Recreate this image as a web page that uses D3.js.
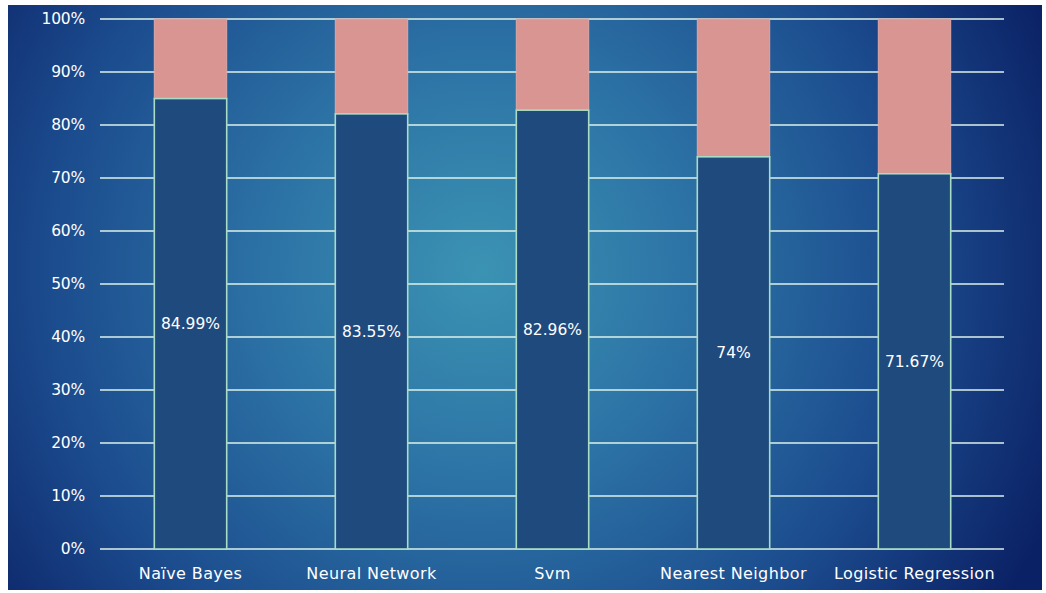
<!DOCTYPE html>
<html>
<head>
<meta charset="utf-8">
<script src="https://cdn.jsdelivr.net/npm/d3@7"></script>
<style>
  html, body { margin: 0; padding: 0; background: #ffffff; }
  svg { display: block; }
  text { font-family: "DejaVu Sans", sans-serif; }
</style>
</head>
<body>
<svg id="chart" width="1046" height="593"></svg>
<script>
const categories = ["Naïve Bayes", "Neural Network", "Svm", "Nearest Neighbor", "Logistic Regression"];
const barValues = [84.99, 82.1, 82.8, 74, 70.8];
const valueLabels = ["84.99%", "83.55%", "82.96%", "74%", "71.67%"];
const yTicks = [0, 10, 20, 30, 40, 50, 60, 70, 80, 90, 100];

const svg = d3.select("#chart");

const defs = svg.append("defs");
const grad = defs.append("radialGradient")
  .attr("id", "bg")
  .attr("gradientUnits", "userSpaceOnUse")
  .attr("cx", 480).attr("cy", 270).attr("r", 620)
  .attr("fx", 480).attr("fy", 270);
grad.append("stop").attr("offset", "0%").attr("stop-color", "#3b93b3");
grad.append("stop").attr("offset", "35%").attr("stop-color", "#2c72a5");
grad.append("stop").attr("offset", "70%").attr("stop-color", "#1b4b8d");
grad.append("stop").attr("offset", "100%").attr("stop-color", "#0b2165");

svg.append("rect")
  .attr("x", 8).attr("y", 5).attr("width", 1034).attr("height", 585)
  .attr("fill", "url(#bg)");

const x = d3.scaleBand().domain(categories).range([100, 1005]).paddingInner(0.6).paddingOuter(0.3);
const y = d3.scaleLinear().domain([0, 100]).range([549, 19]);

// gridlines
svg.append("g").selectAll("line").data(yTicks).join("line")
  .attr("x1", 100).attr("x2", 1004)
  .attr("y1", d => y(d)).attr("y2", d => y(d))
  .attr("stroke", "#dcf2ea").attr("stroke-width", 1.7);

// y tick labels
svg.append("g").selectAll("text").data(yTicks).join("text")
  .attr("x", 85).attr("y", d => y(d))
  .attr("dy", "0.35em")
  .attr("text-anchor", "end")
  .attr("fill", "#ffffff")
  .attr("font-size", 15.5)
  .attr("letter-spacing", -0.2)
  .text(d => d + "%");

const bars = svg.append("g").selectAll("g").data(categories).join("g");

// pink remainder
bars.append("rect")
  .attr("x", d => x(d))
  .attr("y", y(100))
  .attr("width", x.bandwidth())
  .attr("height", (d, i) => y(barValues[i]) - y(100))
  .attr("fill", "#d99592")
  .attr("stroke", "#e0a8a6").attr("stroke-width", 1);

// dark value bar
bars.append("rect")
  .attr("x", d => x(d))
  .attr("y", (d, i) => y(barValues[i]))
  .attr("width", x.bandwidth())
  .attr("height", (d, i) => y(0) - y(barValues[i]))
  .attr("fill", "#1f4a7e")
  .attr("stroke", "#a9dcc4").attr("stroke-width", 1.6);

// value labels
bars.append("text")
  .attr("x", d => x(d) + x.bandwidth() / 2)
  .attr("y", (d, i) => (y(barValues[i]) + y(0)) / 2)
  .attr("dy", "0.35em")
  .attr("text-anchor", "middle")
  .attr("fill", "#ffffff")
  .attr("font-size", 15.5)
  .text((d, i) => valueLabels[i]);

// x labels
svg.append("g").selectAll("text").data(categories).join("text")
  .attr("x", d => x(d) + x.bandwidth() / 2)
  .attr("y", 573)
  .attr("dy", "0.35em")
  .attr("text-anchor", "middle")
  .attr("fill", "#ffffff")
  .attr("font-size", 16)
  .attr("letter-spacing", 0.4)
  .text(d => d);
</script>
</body>
</html>
